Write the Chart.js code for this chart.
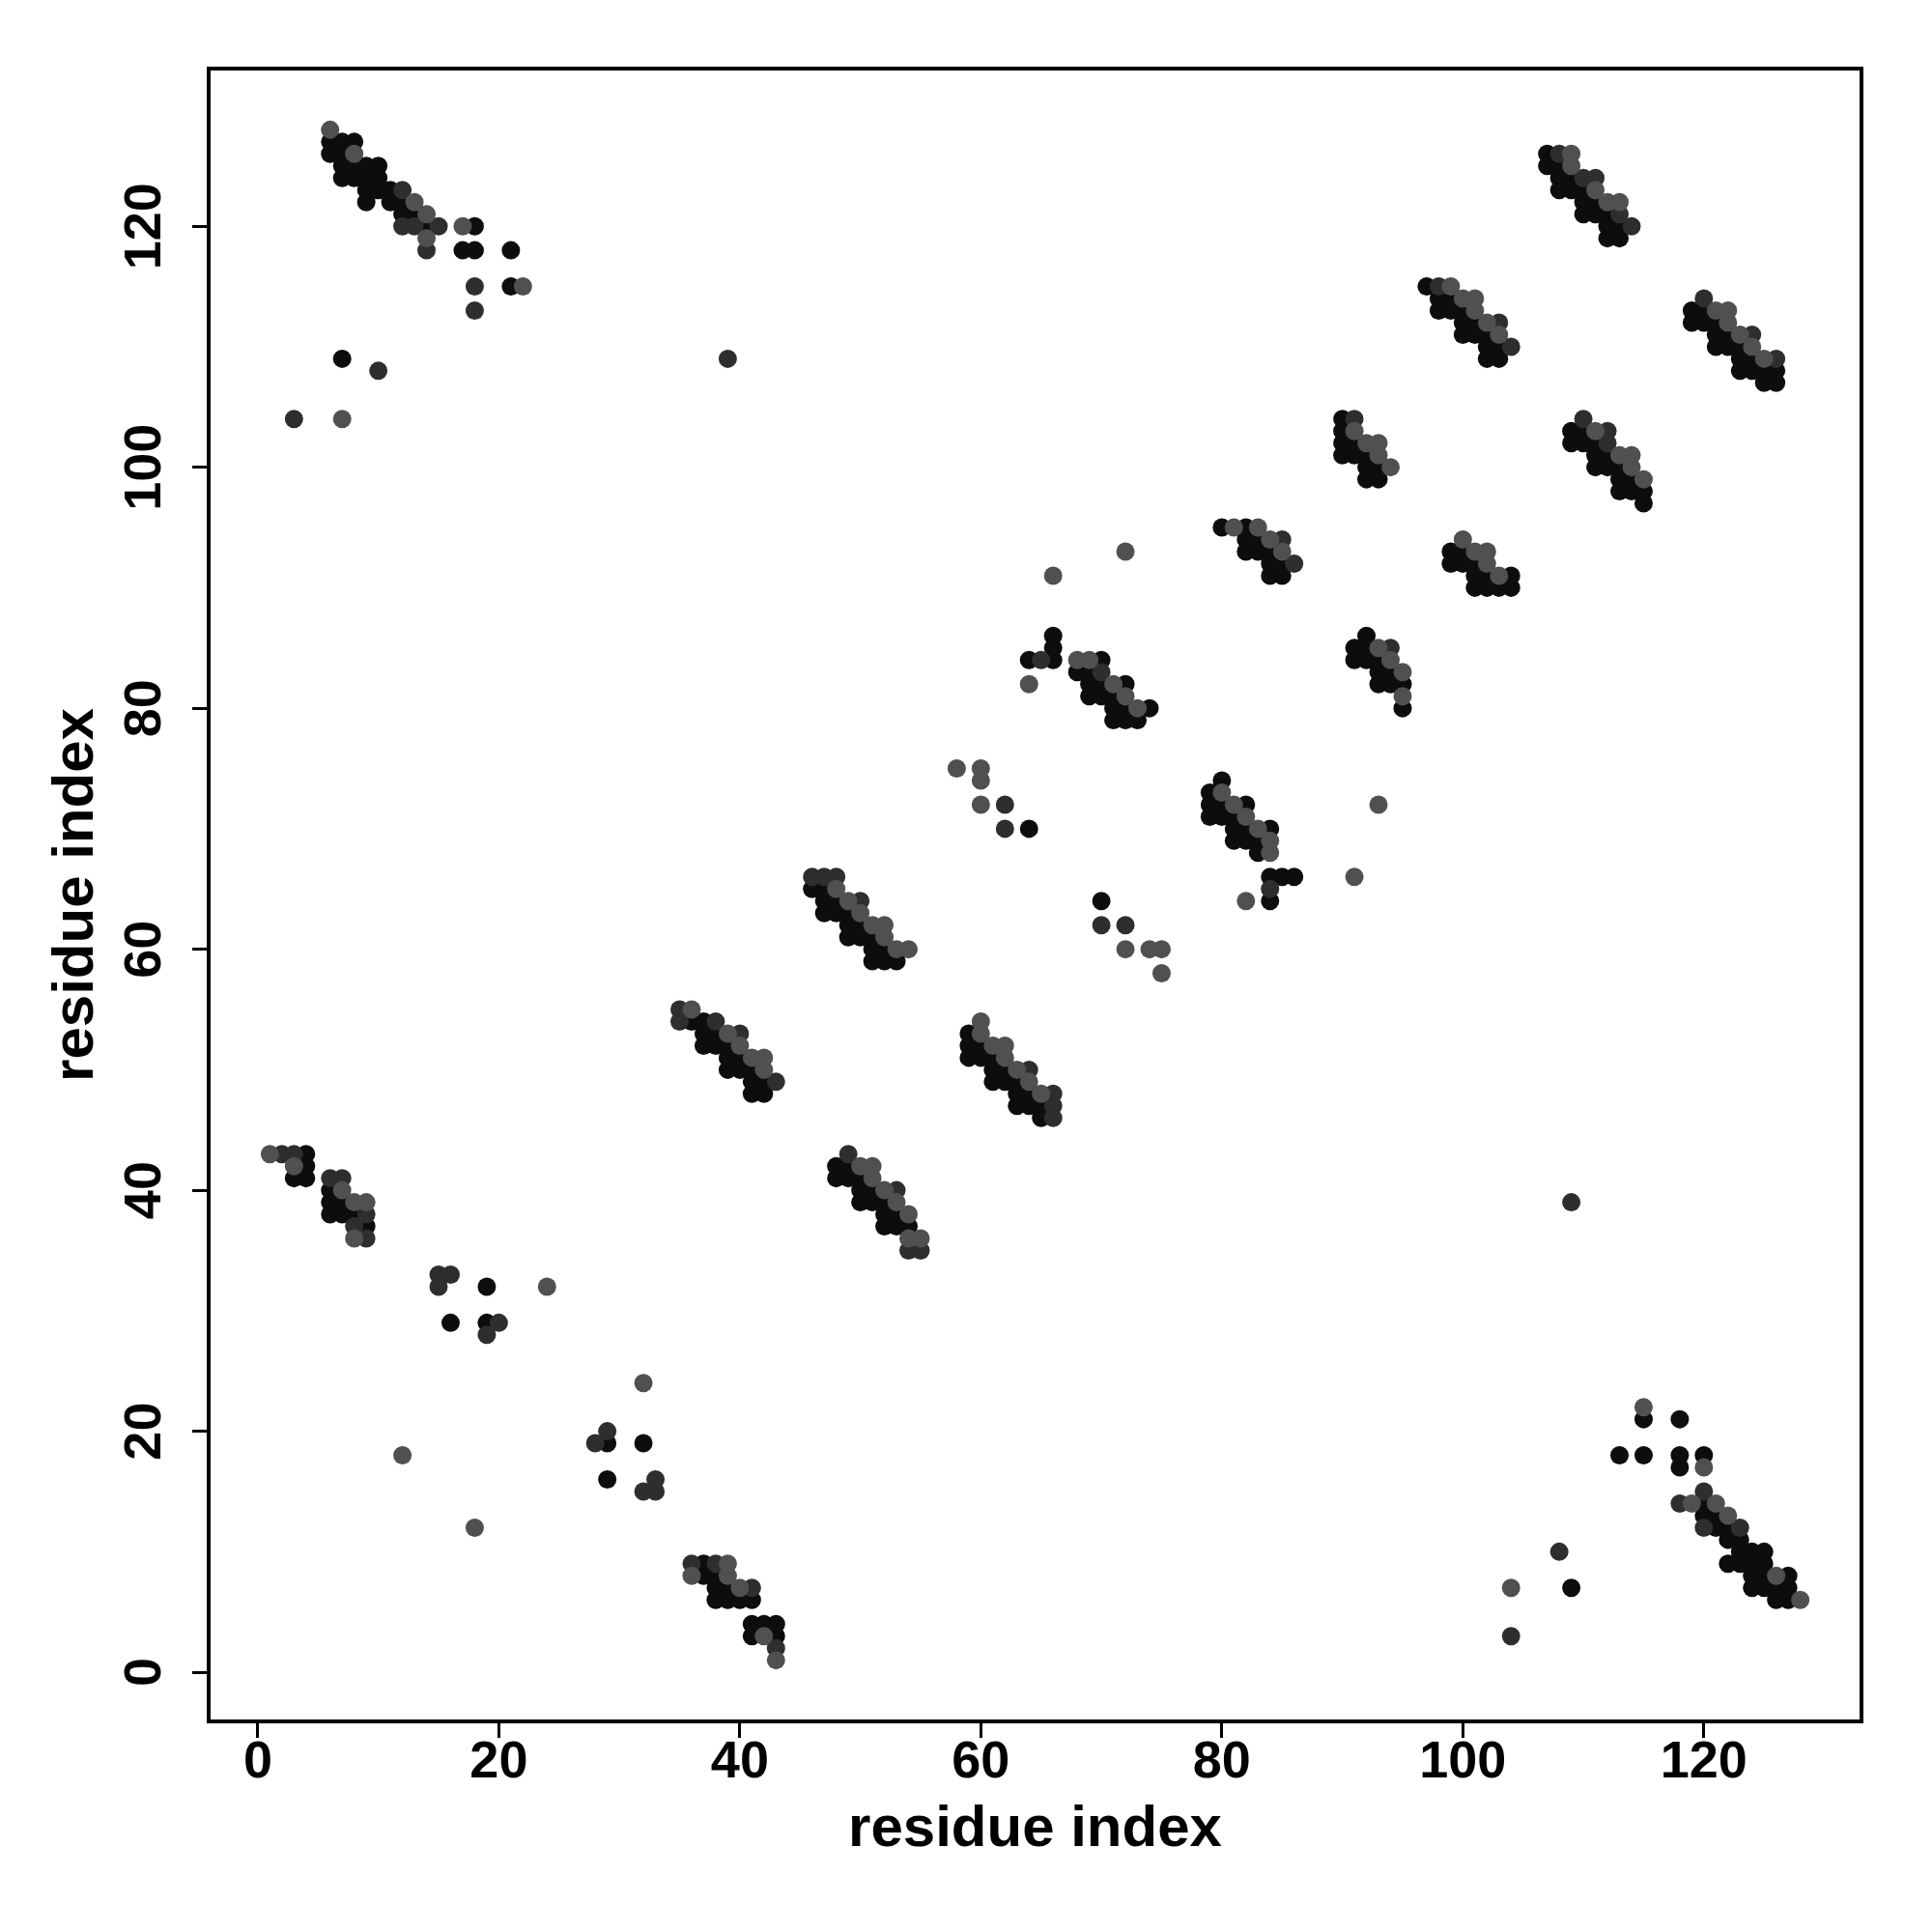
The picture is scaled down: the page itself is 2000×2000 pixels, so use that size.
<!DOCTYPE html>
<html>
<head>
<meta charset="utf-8">
<script src="https://cdn.jsdelivr.net/npm/chart.js@4.4.1/dist/chart.umd.min.js"></script>
<style>html,body{margin:0;padding:0;background:#fff}</style>
</head>
<body>
<canvas id="contactMap" width="2000" height="2000"></canvas>
<script>
// residue pairs (i, j) in contact, grouped by how dark they are drawn
const tickValues = [0, 20, 40, 60, 80, 100, 120];
const axisLabel = 'residue index';

const strongContacts = [
  [6,127],[6,126],[7,127],[8,127],[7,126],[7,125],[7,124],[8,125],[8,124],[9,125],[10,125],[9,124],[10,124],[9,123],[10,123],[9,122],[11,123],[11,122],[12,122],[12,121],[13,121],[14,120],[18,120],[17,118],[18,118],[21,118],[21,115],
  [127,6],[126,6],[127,7],[126,7],[127,8],[125,7],[124,7],[125,8],[124,8],[125,9],[125,10],[124,9],[124,10],[123,9],[123,10],[122,9],[123,11],[122,11],[122,12],[121,12],[121,13],[120,13],[120,14],[120,18],[118,17],[118,18],[118,21],[115,18],[115,21],[113,18],
  [4,43],[4,42],[3,41],[4,41],[6,40],[6,39],[7,39],[6,38],[7,38],[8,38],[9,37],
  [43,3],[43,4],[42,4],[41,3],[41,4],[41,6],[40,6],[39,6],[39,7],[38,6],[38,7],[38,8],[37,8],[37,9],
  [19,32],[16,29],[19,29],[32,19],[29,16],[29,19],
  [36,54],[37,54],[37,53],[38,53],[37,52],[38,52],[39,52],[39,51],[40,51],[39,50],[40,50],[41,50],[41,49],[42,49],[41,48],[42,48],
  [54,37],[53,37],[53,38],[52,37],[52,38],[52,39],[51,39],[51,40],[50,39],[50,40],[50,41],[49,41],[49,42],[48,41],[48,42],
  [59,53],[59,52],[60,52],[59,51],[60,51],[61,51],[61,50],[62,50],[61,49],[62,49],[63,49],[63,48],[64,48],[63,47],[64,47],[65,47],[65,46],
  [53,59],[52,59],[52,60],[51,59],[51,60],[51,61],[50,61],[50,62],[49,61],[49,62],[49,63],[48,63],[48,64],[47,63],[47,64],[47,65],[46,65],
  [64,70],[70,64],
  [66,86],[66,85],[64,84],[66,84],[70,84],[68,83],[69,83],[69,82],[70,82],[72,82],[69,81],[70,81],[71,81],[71,80],[72,80],[74,80],[71,79],[72,79],[73,79],
  [86,66],[85,66],[84,64],[84,66],[84,70],[83,68],[83,69],[82,69],[82,70],[82,72],[81,69],[81,70],[81,71],[80,71],[80,72],[80,74],[79,71],[79,72],[79,73],
  [80,95],[82,95],[82,94],[83,94],[82,93],[83,93],[84,93],[84,92],[85,92],[84,91],[85,91],
  [95,80],[95,82],[94,82],[94,83],[93,82],[93,83],[93,84],[92,84],[92,85],[92,86],[91,84],[91,85],
  [90,104],[90,103],[90,102],[91,102],[90,101],[91,101],[92,101],[92,100],[93,100],[92,99],[93,99],
  [104,90],[104,91],[103,90],[102,90],[102,91],[101,90],[101,91],[101,92],[100,92],[100,93],[99,92],[99,93],
  [97,115],[98,114],[99,114],[98,113],[99,113],[100,113],[100,112],[101,112],[100,111],[101,111],[102,111],[102,110],[103,110],[102,109],[103,109],
  [115,97],[115,98],[114,98],[114,99],[113,98],[113,99],[113,100],[112,100],[112,101],[111,100],[111,101],[111,102],[110,102],[110,103],[109,102],[109,103],
  [107,126],[107,125],[108,125],[108,124],[109,124],[108,123],[109,123],[110,123],[110,122],[111,122],[110,121],[111,121],[112,121],[112,120],[113,120],[112,119],[113,119],
  [126,107],[126,108],[125,107],[125,108],[124,108],[124,109],[123,108],[123,109],[123,110],[122,110],[122,111],[121,110],[121,111],[121,112],[120,112],[120,113],[119,112],[119,113],
  [7,109],[109,7]
];

const mediumContacts = [
  [12,123],[12,120],[13,120],[15,120],[14,118],[18,115],[18,113],
  [123,12],[120,12],[120,15],[118,14],
  [2,43],[3,43],[6,41],[7,41],[9,38],[8,37],[9,36],
  [43,2],[41,7],[38,9],[36,9],
  [15,33],[16,33],[15,32],[20,29],[19,28],[33,15],[33,16],[32,15],[29,20],[28,19],
  [35,55],[35,54],[38,54],[40,53],[43,49],
  [55,35],[54,35],[53,40],[49,43],
  [64,50],[66,48],[66,47],[66,46],
  [50,64],[48,66],[47,66],[46,66],
  [62,72],[62,70],[70,62],[72,62],
  [65,84],[70,83],[84,65],
  [85,94],[86,92],[94,85],
  [91,104],
  [98,115],[103,112],[104,110],[112,102],[112,103],[110,104],
  [108,126],[110,124],[111,124],[113,121],[114,120],[126,109],[124,111],[120,114],
  [3,104],[10,108],[39,109],[104,3],[108,10],[109,39]
];

const weakContacts = [
  [6,128],[8,126],[13,122],[14,121],[14,119],[17,120],[22,115],
  [128,6],[126,8],[122,13],[121,14],[119,14],[120,17],[115,22],
  [1,43],[3,42],[7,40],[8,39],[9,39],[8,36],
  [43,1],[42,3],[40,7],[39,8],[39,9],[36,8],
  [24,32],[12,18],[18,12],[32,24],
  [36,55],[39,53],[40,52],[41,51],[42,51],[42,50],
  [55,36],[54,36],[54,38],[53,39],[52,40],[51,41],[51,42],[50,42],
  [60,54],[60,53],[61,52],[62,52],[62,51],[63,50],[64,49],[65,48],
  [54,60],[53,60],[52,61],[52,62],[51,62],[50,63],[49,64],[48,65],
  [58,75],[60,75],[60,74],[60,72],[72,60],[74,60],[75,60],[75,58],
  [64,82],[68,84],[69,84],[71,82],[72,81],[73,80],
  [82,64],[84,68],[84,69],[83,70],[82,71],[81,72],[80,73],
  [66,91],[72,93],[91,66],[93,72],
  [81,95],[83,95],[84,94],[85,93],[95,81],[95,83],[94,84],[93,85],
  [91,103],[92,102],[93,102],[93,101],[94,100],
  [103,91],[102,92],[102,93],[101,93],[100,94],
  [99,115],[100,114],[101,114],[101,113],[102,112],[103,111],
  [115,99],[114,100],[114,101],[113,101],[111,103],
  [109,126],[109,125],[111,123],[112,122],[113,122],
  [125,109],[124,110],[123,111],[122,112],[122,113],[121,113],
  [7,104],[104,7]
];

const toPoints = pairs => pairs.map(p => ({ x: p[0], y: p[1] }));
const fontFamily = "'Liberation Sans', Arial, sans-serif";

// draws the closed frame round the plot region
const frameBox = {
  id: 'frameBox',
  afterDraw(chart) {
    const { ctx, chartArea } = chart;
    ctx.save();
    ctx.strokeStyle = '#000';
    ctx.lineWidth = 4;
    ctx.strokeRect(chartArea.left, chartArea.top, chartArea.right - chartArea.left, chartArea.bottom - chartArea.top);
    ctx.restore();
  }
};

function axisOptions(isX) {
  return {
    type: 'linear',
    min: -4.08,
    max: 133.08,
    afterBuildTicks: scale => { scale.ticks = tickValues.map(v => ({ value: v })); },
    afterFit: scale => {
      if (isX) scale.height = 218; else scale.width = 216;
    },
    grid: { display: true, drawOnChartArea: false, drawTicks: true, tickLength: 17, tickWidth: 3, tickColor: '#000' },
    border: { display: false },
    ticks: isX
      ? { color: '#000', font: { family: fontFamily, size: 54, weight: 'bold' }, padding: -6, maxRotation: 0, minRotation: 0 }
      : { color: '#000', font: { family: fontFamily, size: 54, weight: 'bold' }, padding: 3, minRotation: 90, maxRotation: 90, crossAlign: 'center' },
    title: {
      display: true,
      text: axisLabel,
      color: '#000',
      font: { family: fontFamily, size: 60, weight: 'bold' },
      padding: isX ? { top: 0, bottom: 70 } : { top: 43, bottom: 0 }
    }
  };
}

const ctx = document.getElementById('contactMap').getContext('2d');
const contactChart = new Chart(ctx, {
  type: 'scatter',
  data: {
    datasets: [
      { label: 'weak', data: toPoints(weakContacts), backgroundColor: '#505050', order: 0 },
      { label: 'medium', data: toPoints(mediumContacts), backgroundColor: '#2e2e2e', order: 1 },
      { label: 'strong', data: toPoints(strongContacts), backgroundColor: '#0d0d0d', order: 2 },
    ],
  },
  options: {
    responsive: false,
    devicePixelRatio: 1,
    animation: false,
    layout: { padding: { top: 71, right: 73, left: 0, bottom: 0 } },
    elements: { point: { radius: 9.5, hoverRadius: 9.5, borderWidth: 0 } },
    plugins: { legend: { display: false }, tooltip: { enabled: false } },
    scales: { x: axisOptions(true), y: axisOptions(false) },
  },
  plugins: [frameBox],
});
</script>
</body>
</html>
